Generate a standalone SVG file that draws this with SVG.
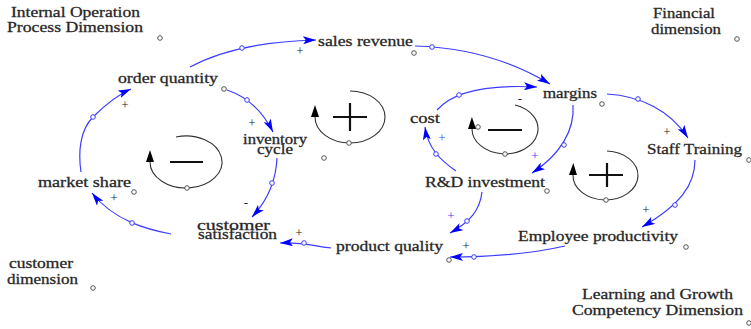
<svg xmlns="http://www.w3.org/2000/svg" width="751" height="329" viewBox="0 0 751 329">
<style>
.t{font-family:"Liberation Serif","Times New Roman",serif;font-size:14.5px;fill:#222;stroke:#333;stroke-width:0.3}
.p{font-family:"Liberation Serif","Times New Roman",serif;font-size:13px;fill:#222;text-anchor:middle}
.pb{fill:#3b3bff}
.lk{fill:none;stroke:#3c3cff;stroke-width:1.2;marker-end:url(#ab)}
.lp{fill:none;stroke:#333;stroke-width:1.1;marker-end:url(#ak)}
.sg{stroke:#111;stroke-width:2.2;fill:none}
.c{fill:#fff;stroke:#555;stroke-width:1}
.cb{fill:#fff;stroke:#3c3cff;stroke-width:1}
</style>
<defs>
<marker id="ab" viewBox="0 0 13 8" refX="13" refY="4" markerWidth="13" markerHeight="8" markerUnits="userSpaceOnUse" orient="auto"><path d="M0,0 L13,4 L0,8 L3,4 z" fill="#0000ff"/></marker>
<marker id="ak" viewBox="0 0 12 8" refX="0" refY="4" markerWidth="12" markerHeight="8" markerUnits="userSpaceOnUse" orient="auto"><path d="M0,0 L12,4 L0,8 z" fill="#000"/></marker>
</defs>
<rect width="751" height="329" fill="#fff"/>

<g id="dimensions">
<text class="t" x="11" y="16.5" textLength="129" lengthAdjust="spacingAndGlyphs">Internal Operation</text>
<text class="t" x="7" y="32" textLength="136" lengthAdjust="spacingAndGlyphs">Process Dimension</text>
<circle class="c" cx="160" cy="38" r="2.3"/>
<text class="t" x="653" y="18" textLength="62" lengthAdjust="spacingAndGlyphs">Financial</text>
<text class="t" x="651" y="34" textLength="70" lengthAdjust="spacingAndGlyphs">dimension</text>
<circle class="c" cx="737" cy="39" r="2.3"/>
<text class="t" x="9" y="268" textLength="64" lengthAdjust="spacingAndGlyphs">customer</text>
<text class="t" x="7" y="284" textLength="71" lengthAdjust="spacingAndGlyphs">dimension</text>
<circle class="c" cx="93" cy="288" r="2.3"/>
<text class="t" x="582" y="299" textLength="151" lengthAdjust="spacingAndGlyphs">Learning and Growth</text>
<text class="t" x="572" y="315" textLength="171" lengthAdjust="spacingAndGlyphs">Competency Dimension</text>
<circle class="c" cx="749" cy="323" r="2.3"/>
</g>

<g id="sales-revenue"><text class="t" x="318" y="45.5" textLength="95" lengthAdjust="spacingAndGlyphs">sales revenue</text><circle class="c" cx="414" cy="53" r="2.3"/></g>
<g id="margins"><text class="t" x="543" y="98" textLength="54" lengthAdjust="spacingAndGlyphs">margins</text><circle class="c" cx="602" cy="104" r="2.3"/></g>
<g id="order-quantity"><text class="t" x="118" y="83" textLength="100" lengthAdjust="spacingAndGlyphs">order quantity</text><circle class="c" cx="224" cy="89" r="2.3"/></g>
<g id="inventory-cycle"><text class="t" x="243" y="144" textLength="64" lengthAdjust="spacingAndGlyphs">inventory</text><text class="t" x="257" y="154" textLength="36" lengthAdjust="spacingAndGlyphs">cycle</text><circle class="c" cx="324" cy="158" r="2.3"/></g>
<g id="cost"><text class="t" x="410" y="123" textLength="30" lengthAdjust="spacingAndGlyphs">cost</text><circle class="c" cx="478" cy="127" r="2.3"/></g>
<g id="rd-investment"><text class="t" x="425" y="187" textLength="120" lengthAdjust="spacingAndGlyphs">R&amp;D investment</text><circle class="c" cx="547" cy="191" r="2.3"/></g>
<g id="staff-training"><text class="t" x="647" y="154" textLength="95" lengthAdjust="spacingAndGlyphs">Staff Training</text><circle class="c" cx="749" cy="160" r="2.3"/></g>
<g id="market-share"><text class="t" x="38" y="187" textLength="93" lengthAdjust="spacingAndGlyphs">market share</text><circle class="c" cx="134" cy="192" r="2.3"/></g>
<g id="customer-satisfaction"><text class="t" x="197" y="229.5" textLength="73" lengthAdjust="spacingAndGlyphs">customer</text><text class="t" x="198" y="238.5" textLength="79" lengthAdjust="spacingAndGlyphs">satisfaction</text></g>
<g id="product-quality"><text class="t" x="336" y="251" textLength="107" lengthAdjust="spacingAndGlyphs">product quality</text><circle class="c" cx="449" cy="260" r="2.3"/></g>
<g id="employee-productivity"><text class="t" x="518" y="241" textLength="160" lengthAdjust="spacingAndGlyphs">Employee productivity</text><circle class="c" cx="686" cy="247" r="2.3"/></g>

<g id="loops">
<path class="lp" d="M176,137 A36,26 0 1 1 150,162"/>
<circle class="c" cx="187" cy="188" r="2.3"/>
<line class="sg" x1="170" y1="162" x2="203" y2="162"/>
<path class="lp" d="M350,91 A35,26 0 1 1 315,117"/>
<circle class="c" cx="349" cy="143" r="2.3"/>
<line class="sg" x1="333" y1="117" x2="367" y2="117"/><line class="sg" x1="350" y1="103" x2="350" y2="131"/>
<path class="lp" d="M515,105 A33,25 0 1 1 472,129"/>
<circle class="c" cx="505" cy="154" r="2.3"/>
<line class="sg" x1="488" y1="130" x2="522" y2="130"/>
<path class="lp" d="M607,151 A32.5,24.5 0 1 1 573,175"/>
<circle class="c" cx="606" cy="200" r="2.3"/>
<line class="sg" x1="589" y1="175" x2="623" y2="175"/><line class="sg" x1="607" y1="163" x2="607" y2="187"/>
</g>

<g id="connectors">
<path class="lk" d="M190,67 Q236,42 316,40"/><circle class="cb" cx="242" cy="48" r="2.3"/>
<path class="lk" d="M415,46 Q490,48 550,84"/><circle class="cb" cx="432" cy="47" r="2.3"/>
<path class="lk" d="M437,110 C450,95 480,84 537,87"/><circle class="cb" cx="459" cy="95" r="2.3"/>
<path class="lk" d="M573,105 C575,130 560,155 532,173"/><circle class="cb" cx="564" cy="145" r="2.3"/>
<path class="lk" d="M607,94 C640,96 670,110 688,138"/><circle class="cb" cx="638" cy="99" r="2.3"/>
<path class="lk" d="M695,160 C695,185 680,205 642,227"/><circle class="cb" cx="675" cy="205" r="2.3"/>
<path class="lk" d="M565,246 C530,254 490,257 450,257"/><circle class="cb" cx="474" cy="257" r="2.3"/>
<path class="lk" d="M482,192 C480,210 470,222 450,233"/><circle class="cb" cx="467" cy="221" r="2.3"/>
<path class="lk" d="M456,171 C440,160 428,148 425,127"/><circle class="cb" cx="436" cy="154" r="2.3"/>
<path class="lk" d="M331,248 C315,246 300,242 280,243"/><circle class="cb" cx="304" cy="243" r="2.3"/>
<path class="lk" d="M277,158 C276,180 268,200 252,217"/><circle class="cb" cx="272" cy="183" r="2.3"/>
<path class="lk" d="M171,234 C150,230 115,222 92,193"/><circle class="cb" cx="132" cy="223" r="2.3"/>
<path class="lk" d="M81,172 C78,152 80,130 93,117 C103,107 115,96 131,89"/><circle class="cb" cx="93" cy="117" r="2.3"/>
<path class="lk" d="M227,90 C245,96 262,110 273,132"/><circle class="cb" cx="247" cy="100" r="2.3"/>
</g>

<g id="polarities">
<text class="p" x="300" y="55">+</text>
<text class="p" x="125" y="109">+</text>
<text class="p" x="252" y="127">+</text>
<text class="p" x="246" y="207">-</text>
<text class="p" x="114" y="202">+</text>
<text class="p" x="299" y="237">+</text>
<text class="p" x="520" y="103">-</text>
<text class="p pb" x="442" y="142">+</text>
<text class="p pb" x="535" y="160">+</text>
<text class="p pb" x="451" y="220">+</text>
<text class="p" x="466" y="250">+</text>
<text class="p" x="667" y="136">+</text>
<text class="p" x="646" y="214">+</text>
</g>
</svg>
